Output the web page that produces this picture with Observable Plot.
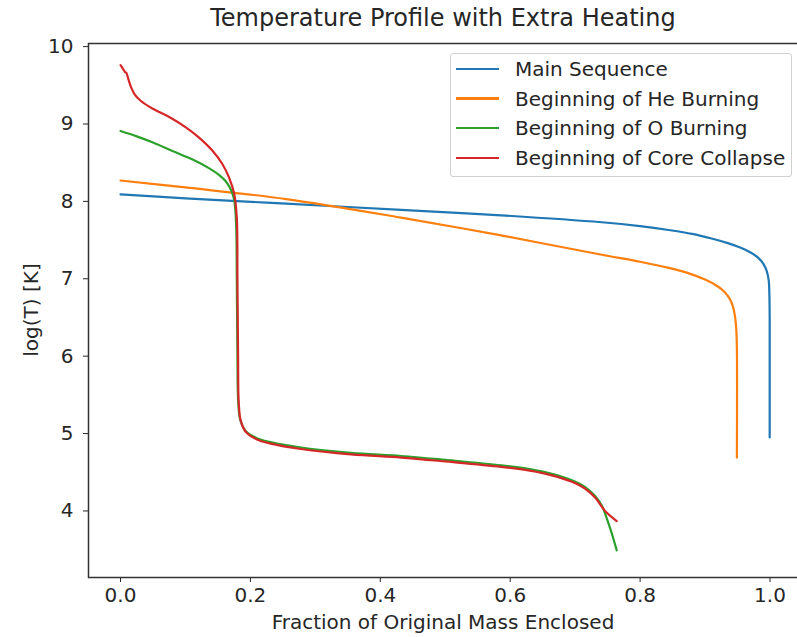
<!DOCTYPE html>
<html>
<head>
<meta charset="utf-8">
<script src="https://cdn.jsdelivr.net/npm/d3@7"></script>
<script src="https://cdn.jsdelivr.net/npm/@observablehq/plot@0.6"></script>
<style>
  html, body { margin: 0; padding: 0; background: white; }
  #wrap { position: relative; width: 797px; height: 637px; font-family: "DejaVu Sans", sans-serif; color: #262626; overflow: hidden; }
  #wrap svg { position: absolute; left: 0; top: 0; max-width: none !important; }
  .title { position: absolute; left: 88px; width: 710px; top: 4px; text-align: center; font-size: 24px; line-height: 28px; }
  .xlabel { position: absolute; left: 88px; width: 710px; top: 610px; text-align: center; font-size: 20px; line-height: 24px; }
  .ylabel { position: absolute; left: 31px; top: 310px; transform: translate(-50%, -50%) rotate(-90deg); font-size: 20px; line-height: 24px; white-space: nowrap; }
  .legend { position: absolute; left: 450px; top: 53px; width: 342px; height: 124px; border: 1px solid #d0d0d0; border-radius: 3px; background: rgba(255,255,255,0.85); box-sizing: border-box; }
  .row { position: absolute; left: 0; height: 24px; display: flex; align-items: center; font-size: 20px; white-space: nowrap; }
  .swatch { width: 43px; height: 2.2px; margin-left: 5px; margin-right: 16px; }
</style>
</head>
<body>
<div id="wrap"></div>
<script>
// ---- data ----
const seriesNames = ["Main Sequence", "Beginning of He Burning", "Beginning of O Burning", "Beginning of Core Collapse"];
const seriesColors = ["#1f77b4", "#ff7f0e", "#2ca02c", "#d62728"];

const msX = [0, 0.1, 0.255, 0.432, 0.586, 0.741, 0.8, 0.844, 0.88, 0.91, 0.935, 0.955, 0.97, 0.982, 0.99, 0.995, 0.998, 0.999, 0.9995, 0.9995, 0.9995];
const msY = [8.09, 8.04, 7.97, 7.89, 7.82, 7.73, 7.68, 7.63, 7.58, 7.52, 7.46, 7.40, 7.34, 7.27, 7.19, 7.10, 6.98, 6.8, 6.5, 6.0, 4.95];

const heX = [0, 0.1, 0.255, 0.432, 0.586, 0.741, 0.8, 0.844, 0.875, 0.9, 0.918, 0.93, 0.938, 0.943, 0.946, 0.948, 0.949, 0.949];
const heY = [8.27, 8.18, 8.03, 7.79, 7.56, 7.31, 7.22, 7.14, 7.07, 6.99, 6.91, 6.83, 6.74, 6.64, 6.52, 6.35, 6.1, 4.69];

const oX = [0, 0.025, 0.05, 0.08, 0.111, 0.136, 0.152, 0.162, 0.17, 0.175, 0.178, 0.179, 0.180, 0.181, 0.184, 0.192, 0.210, 0.231, 0.278, 0.355, 0.432, 0.5, 0.586, 0.63, 0.664, 0.694, 0.715, 0.731, 0.741, 0.748, 0.756, 0.764];
const oY = [8.91, 8.84, 8.76, 8.65, 8.54, 8.43, 8.34, 8.26, 8.15, 8.02, 7.7, 7.0, 6.0, 5.45, 5.19, 5.04, 4.94, 4.89, 4.82, 4.75, 4.71, 4.66, 4.59, 4.54, 4.48, 4.40, 4.31, 4.19, 4.07, 3.92, 3.72, 3.49];

const ccX = [0, 0.004, 0.007, 0.009, 0.012, 0.016, 0.022, 0.031, 0.049, 0.075, 0.1, 0.12, 0.141, 0.157, 0.167, 0.175, 0.179, 0.180, 0.181, 0.182, 0.185, 0.193, 0.211, 0.231, 0.278, 0.355, 0.432, 0.5, 0.586, 0.63, 0.664, 0.694, 0.715, 0.731, 0.746, 0.764];
const ccY = [9.76, 9.71, 9.67, 9.66, 9.58, 9.48, 9.38, 9.30, 9.20, 9.09, 8.96, 8.83, 8.66, 8.48, 8.31, 8.10, 7.79, 7.0, 6.0, 5.4, 5.17, 5.02, 4.92, 4.87, 4.80, 4.73, 4.69, 4.64, 4.57, 4.52, 4.46, 4.38, 4.29, 4.17, 4.00, 3.87];

const xTicks = [0, 0.2, 0.4, 0.6, 0.8, 1.0];
const yTicks = [4, 5, 6, 7, 8, 9, 10];
const titleText = "Temperature Profile with Extra Heating";
const xLabelText = "Fraction of Original Mass Enclosed";
const yLabelText = "log(T) [K]";

// ---- build ----
const toRows = (xs, ys) => xs.map((x, i) => ({x, y: ys[i]}));
const seriesData = [toRows(msX, msY), toRows(heX, heY), toRows(oX, oY), toRows(ccX, ccY)];

const chart = Plot.plot({
  width: 799,
  height: 637,
  marginLeft: 88,
  marginRight: 0,
  marginTop: 43,
  marginBottom: 60,
  style: {fontFamily: "DejaVu Sans", fontSize: "20px", color: "#262626", background: "white", maxWidth: "none"},
  x: {domain: [-0.0493, 1.0454], ticks: xTicks, tickFormat: d3.format(".1f"), tickSize: 5, tickPadding: 5, label: null},
  y: {domain: [3.14, 10.04], ticks: yTicks, tickFormat: d3.format("d"), tickSize: 5, tickPadding: 10, label: null},
  marks: [
    ...seriesData.map((rows, i) => Plot.line(rows, {x: "x", y: "y", stroke: seriesColors[i], strokeWidth: 2.2, curve: "catmull-rom", strokeLinejoin: "round"})),
    Plot.frame({stroke: "#333", strokeWidth: 1.5})
  ]
});

const wrap = document.getElementById("wrap");
wrap.appendChild(chart);

const addDiv = (cls, text) => { const d = document.createElement("div"); d.className = cls; if (text) d.textContent = text; wrap.appendChild(d); return d; };
addDiv("title", titleText);
addDiv("xlabel", xLabelText);
addDiv("ylabel", yLabelText);

const legend = addDiv("legend");
const rowCenters = [15, 44.5, 74.3, 104.3];
seriesNames.forEach((name, i) => {
  const r = document.createElement("div");
  r.className = "row";
  r.style.top = (rowCenters[i] - 12) + "px";
  const sw = document.createElement("div");
  sw.className = "swatch";
  sw.style.background = seriesColors[i];
  const t = document.createElement("span");
  t.textContent = name;
  r.appendChild(sw); r.appendChild(t);
  legend.appendChild(r);
});
</script>
</body>
</html>
